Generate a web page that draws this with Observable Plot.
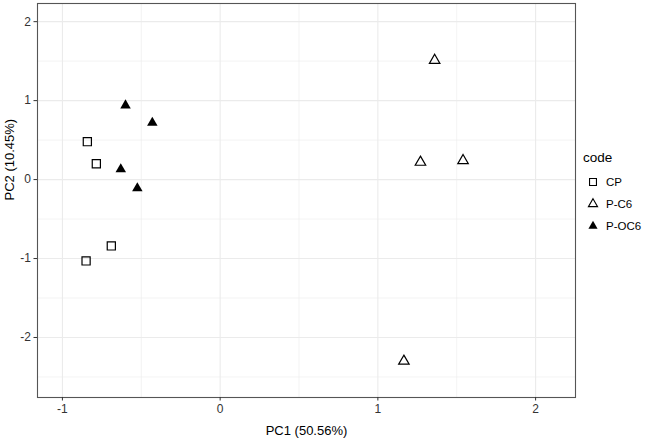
<!DOCTYPE html>
<html>
<head>
<meta charset="utf-8">
<script src="https://cdn.jsdelivr.net/npm/d3@7"></script>
<script src="https://cdn.jsdelivr.net/npm/@observablehq/plot@0.6"></script>
<style>
  body { margin: 0; background: #fff; font-family: "Liberation Sans", Arial, sans-serif; }
  #wrap { position: relative; width: 650px; height: 439px; }
  #legend { position: absolute; left: 0; top: 0; }
</style>
</head>
<body>
<div id="wrap"></div>
<script>
// ---- data ----
const codes = ["CP", "P-C6", "P-OC6"];
const cpX   = [-0.842, -0.785, -0.85, -0.69];
const cpY   = [0.48, 0.20, -1.03, -0.84];
const pc6X  = [1.36, 1.27, 1.54, 1.165];
const pc6Y  = [1.51, 0.22, 0.24, -2.30];
const poc6X = [-0.60, -0.43, -0.63, -0.525];
const poc6Y = [0.94, 0.72, 0.13, -0.11];
const xTicks = [-1, 0, 1, 2];
const yTicks = [-2, -1, 0, 1, 2];
const xMinor = [-0.5, 0.5, 1.5];
const yMinor = [-2.5, -1.5, -0.5, 0.5, 1.5];
const xLabel = "PC1 (50.56%)";
const yLabel = "PC2 (10.45%)";
const legendTitle = "code";

const toRows = (xs, ys, code) => xs.map((x, i) => ({x, y: ys[i], code}));
const cp = toRows(cpX, cpY, codes[0]);
const pc6 = toRows(pc6X, pc6Y, codes[1]);
const poc6 = toRows(poc6X, poc6Y, codes[2]);

const gridColor = "#ebebeb";
const fmt = d => d < 0 ? "-" + Math.abs(d) : String(d);
const chart = Plot.plot({
  width: 650,
  height: 439,
  marginLeft: 37,
  marginRight: 75,
  marginTop: 3,
  marginBottom: 42,
  style: {fontFamily: "Liberation Sans, Arial, sans-serif", background: "#fff"},
  x: {domain: [-1.158, 2.253]},
  y: {domain: [-2.76, 2.23]},
  marks: [
    Plot.ruleX(xMinor, {stroke: gridColor, strokeWidth: 0.6}),
    Plot.ruleY(yMinor, {stroke: gridColor, strokeWidth: 0.6}),
    Plot.ruleX(xTicks, {stroke: gridColor, strokeWidth: 1.1}),
    Plot.ruleY(yTicks, {stroke: gridColor, strokeWidth: 1.1}),
    Plot.frame({stroke: "#555", strokeWidth: 1.1}),
    Plot.axisX({ticks: xTicks, tickSize: 3.5, tickPadding: 3, fontSize: 12, color: "#333", label: null, tickFormat: fmt}),
    Plot.axisY({ticks: yTicks, tickSize: 3.5, tickPadding: 3, fontSize: 12, color: "#333", label: null, tickFormat: fmt}),
    Plot.text([xLabel], {frameAnchor: "bottom", dy: 33, fontSize: 13, fill: "#000", lineAnchor: "middle"}),
    Plot.text([yLabel], {frameAnchor: "left", dx: -28, rotate: -90, fontSize: 13, fill: "#000", lineAnchor: "middle"}),
    Plot.dot(cp, {x: "x", y: "y", symbol: "square", r: 4.6, stroke: "#000", fill: "none", strokeWidth: 1.2}),
    Plot.dot(pc6, {x: "x", y: "y", symbol: "triangle", r: 3.9, stroke: "#000", fill: "none", strokeWidth: 1.2}),
    Plot.dot(poc6, {x: "x", y: "y", symbol: "triangle", r: 3.9, stroke: "none", fill: "#000"})
  ]
});
const wrap = document.getElementById("wrap");
wrap.appendChild(chart);

// legend
const leg = d3.select(wrap).append("svg").attr("id", "legend")
  .attr("width", 650).attr("height", 439)
  .style("font-family", "Liberation Sans, Arial, sans-serif")
  .style("pointer-events", "none");
leg.append("text").attr("x", 583).attr("y", 157).attr("dy", "0.35em")
  .attr("font-size", 13.5).attr("fill", "#000").text(legendTitle);
const symDefs = [
  {type: d3.symbolSquare, size: Math.PI * 3.9 * 3.9, fill: "none", stroke: "#000"},
  {type: d3.symbolTriangle, size: Math.PI * 3.4 * 3.4, fill: "none", stroke: "#000"},
  {type: d3.symbolTriangle, size: Math.PI * 3.4 * 3.4, fill: "#000", stroke: "none"}
];
codes.forEach((c, i) => {
  const cy = 182 + i * 22;
  const s = symDefs[i];
  leg.append("path").attr("transform", `translate(593,${cy})`)
    .attr("d", d3.symbol(s.type, s.size)())
    .attr("fill", s.fill).attr("stroke", s.stroke).attr("stroke-width", 1.1);
  leg.append("text").attr("x", 606).attr("y", cy).attr("dy", "0.35em")
    .attr("font-size", 11.5).attr("fill", "#000").text(c);
});
</script>
</body>
</html>
